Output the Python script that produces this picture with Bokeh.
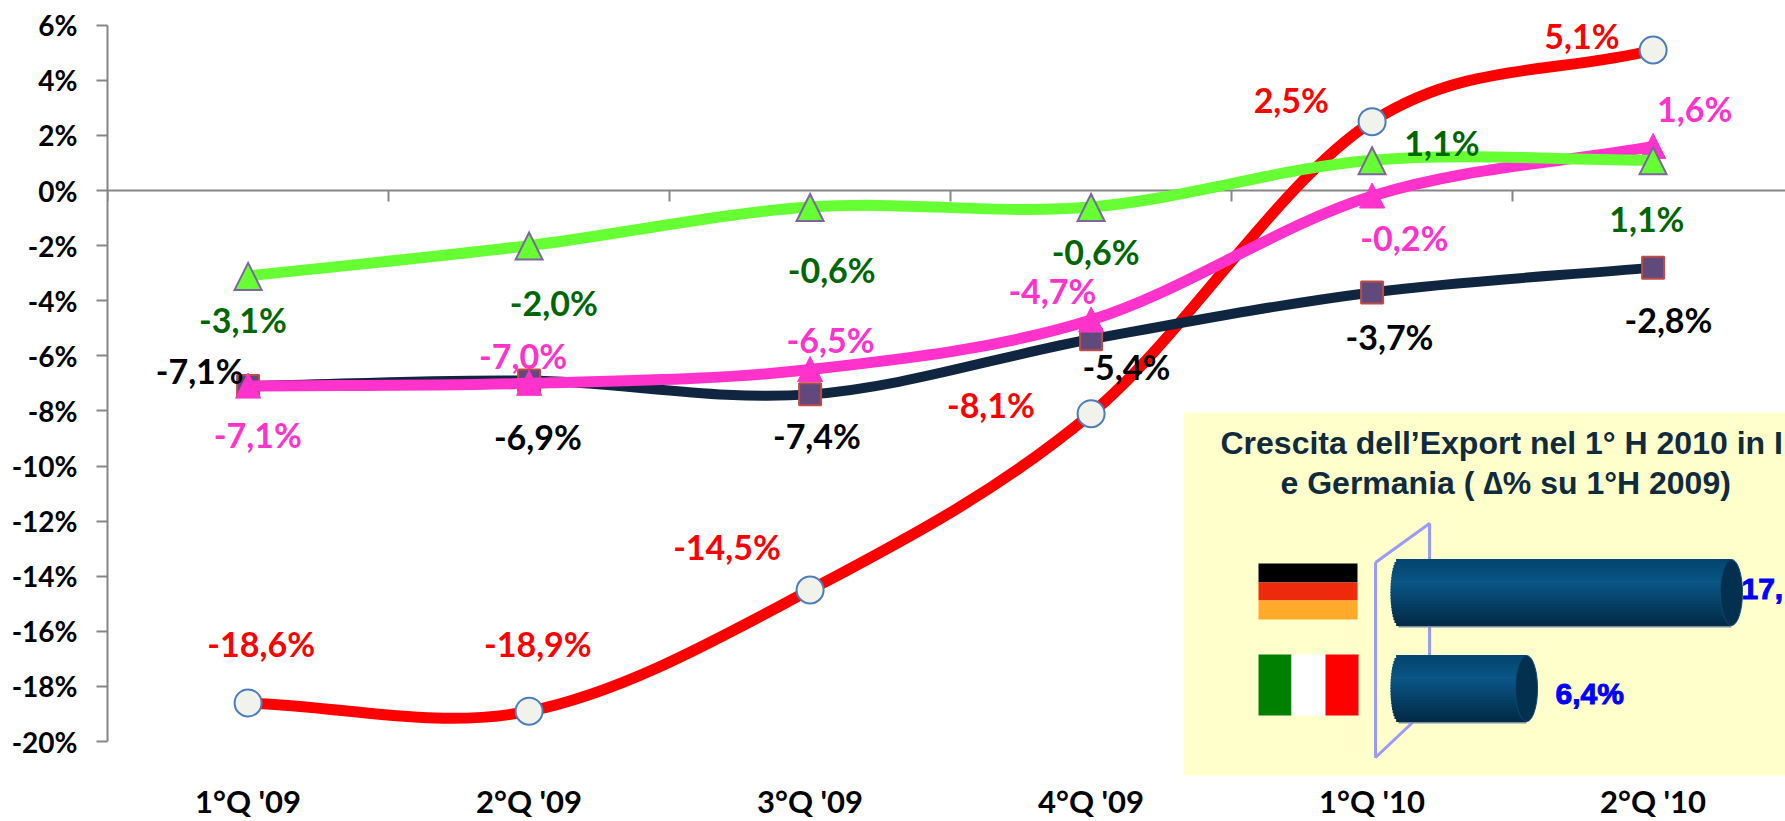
from bokeh.plotting import figure
from bokeh.embed import file_html
from bokeh.resources import INLINE
from bokeh.models import Range1d, LinearAxis, FixedTicker
from bokeh.core.properties import value
import math

# ---- data ----
categories = ["1°Q '09", "2°Q '09", "3°Q '09", "4°Q '09", "1°Q '10", "2°Q '10"]
red_values = [-18.6, -18.9, -14.5, -8.1, 2.5, 5.1]
navy_values = [-7.1, -6.9, -7.4, -5.4, -3.7, -2.8]
pink_values = [-7.1, -7.0, -6.5, -4.7, -0.2, 1.6]
green_values = [-3.1, -2.0, -0.6, -0.6, 1.1, 1.1]
y_ticks = list(range(-20, 8, 2))
inset_countries = ["Germania", "Italia"]
inset_values = [17.3, 6.4]
inset_labels = ["17,", "6,4%"]
inset_title = ["Crescita dell’Export nel 1° H 2010 in I", "e Germania ( ∆% su 1°H 2009)"]

# ---- layout (page pixels) ----
W, H = 1785, 821
LEFT, BOTTOM = 107, 821
ZERO_Y, PX_PER_PCT = 190.0, 27.55
CAT_X0, CAT_DX = 247.6, 281.0
FONT = "Lato"
S = 1.1384  # label offsets below were measured on the shrunk picture

x = list(range(len(categories)))

p = figure(width=W, height=H, output_backend="svg", toolbar_location=None, x_axis_location=None,
           x_range=Range1d(-0.5 - (CAT_X0 - 140.5 - LEFT) / CAT_DX, (W - CAT_X0) / CAT_DX),
           y_range=Range1d((ZERO_Y - BOTTOM) / PX_PER_PCT, ZERO_Y / PX_PER_PCT),
           min_border_left=LEFT, min_border_right=0, min_border_top=0, min_border_bottom=0)
p.styles = {"position": "absolute", "left": "0px", "top": "0px"}
p.outline_line_color = None
p.xgrid.visible = False
p.ygrid.visible = False

AXIS = "#868686"

# zero line with ticks between categories
zero_ticks = [i - 0.5 for i in range(len(categories))]
zax = LinearAxis(fixed_location=0, ticker=FixedTicker(ticks=zero_ticks),
                 major_label_overrides={t: "" for t in zero_ticks})
zax.axis_line_color = AXIS
zax.axis_line_width = 2
zax.major_tick_line_color = AXIS
zax.major_tick_line_width = 2
zax.major_tick_in = 0
zax.major_tick_out = 11
zax.minor_tick_line_color = None
zax.level = "underlay"
p.add_layout(zax, "below")

ya = p.yaxis[0]
ya.ticker = FixedTicker(ticks=y_ticks)
ya.major_label_overrides = {t: f"{t}%" for t in y_ticks}
ya.bounds = (-20, 6)
ya.axis_line_color = AXIS
ya.axis_line_width = 2
ya.major_tick_line_color = AXIS
ya.major_tick_line_width = 2
ya.major_tick_in = 0
ya.major_tick_out = 11
ya.minor_tick_line_color = None
ya.major_label_standoff = 19
ya.major_label_text_font = FONT
ya.major_label_text_font_style = "bold"
ya.major_label_text_font_size = "28px"
ya.major_label_text_color = "#000000"

# ---- inset ----
p.extra_x_ranges["px"] = Range1d(LEFT, W)
p.extra_y_ranges["px"] = Range1d(BOTTOM, 0)
IN_PX, IN_BASE, IN_ROW = 18.8, 1398.0, 96.0   # px per %, x of bar base, px per row
IN_ROW0 = 688.0
base_v = -0.41
p.extra_x_ranges["inset"] = Range1d(base_v - (IN_BASE - LEFT) / IN_PX, base_v + (W - IN_BASE) / IN_PX)
p.extra_y_ranges["inset"] = Range1d(-(BOTTOM - IN_ROW0) / IN_ROW, IN_ROW0 / IN_ROW)
PX = dict(x_range_name="px", y_range_name="px")
IN = dict(x_range_name="inset", y_range_name="inset")

p.quad(left=[1183], right=[W], top=[412], bottom=[775], fill_color="#FFFFCC", line_color=None, **PX)
p.line([1375, 1429, 1429, 1375, 1375], [562, 523, 706, 757, 562], line_color="#9999FF", line_width=3, **PX)

# flags
p.quad(left=[1258] * 3, right=[1357] * 3, top=[563, 582, 600], bottom=[582, 600, 619],
       fill_color=["#000000", "#EE2A0C", "#FFAA2B"], line_color=None, **PX)
p.quad(left=[1258, 1291, 1325], right=[1291, 1325, 1358], top=[654] * 3, bottom=[715] * 3,
       fill_color=["#008000", "#FFFFFF", "#FF0000"], line_color=None, **PX)

rows = [1, 0]
label_dx = [10, 29]
for row, v, lab, dx in zip(rows, inset_values, inset_labels, label_dx):
    p.text([v], [row], text=[lab], text_color="#0000FF", text_font=value("Liberation Sans"),
           text_font_style="bold", text_font_size=value("30px"), text_align="left",
           text_outline_color="#0000FF",
           text_baseline="middle", x_offset=dx, y_offset=5 if row == 0 else -4, **IN)

def mix(a, b, t):
    ca = [int(a[i:i + 2], 16) for i in (1, 3, 5)]
    cb = [int(b[i:i + 2], 16) for i in (1, 3, 5)]
    return "#%02x%02x%02x" % tuple(round(u + (w - u) * t) for u, w in zip(ca, cb))

NB = 22
BAR_H = 66.0
for row, v in zip(rows, inset_values):
    ys, ls, cols = [], [], []
    for i in range(NB):
        t = (i + 0.5) / NB          # 0 top .. 1 bottom
        ys.append(row + (0.5 - t) * BAR_H / IN_ROW)
        ls.append(base_v - (8 / IN_PX) * math.sqrt(max(0, 1 - (2 * t - 1) ** 2)))
        cols.append(mix("#03436F", "#0A5686", t / 0.35) if t < 0.35 else mix("#0A5686", "#012A45", (t - 0.35) / 0.65))
    p.hbar(y=[row - 2 / IN_ROW], left=[base_v], right=[v], height=BAR_H / IN_ROW, fill_color="#7F8C98", line_color=None, **IN)
    p.hbar(y=ys, left=ls, right=[v] * NB, height=BAR_H / NB / IN_ROW * 1.3, fill_color=cols, line_color=None, **IN)
    p.ellipse([v], [row], width=22, height=BAR_H, width_units="screen", height_units="screen",
              fill_color="#04304F", line_color="#0A4A72", line_width=1, **IN)

for txt, lx, ly in zip(inset_title, [1220, 1280], [442, 482]):
    p.text([lx], [ly], text=[txt], text_color="#0F2B3D", text_font=value("Liberation Sans"),
           text_font_style="bold", text_font_size=value("32px"), text_align="left",
           text_baseline="middle", **PX)

# ---- smoothed lines ----
def smooth(ax_, ay, color, width):
    n = len(ax_)
    mx, my = [], []
    for i in range(n):
        a, b = max(i - 1, 0), min(i + 1, n - 1)
        d = 6 if 0 < i < n - 1 else 3
        mx.append((ax_[b] - ax_[a]) / d)
        my.append((ay[b] - ay[a]) / d)
    p.bezier(x0=ax_[:-1], y0=ay[:-1], x1=ax_[1:], y1=ay[1:],
             cx0=[ax_[i] + mx[i] for i in range(n - 1)], cy0=[ay[i] + my[i] for i in range(n - 1)],
             cx1=[ax_[i + 1] - mx[i + 1] for i in range(n - 1)], cy1=[ay[i + 1] - my[i + 1] for i in range(n - 1)],
             line_color=color, line_width=width, line_cap="round")

def triangles(ax_, ay, half_w, up, down, fill, line, lw):
    xs = [[a - half_w / CAT_DX, a, a + half_w / CAT_DX] for a in ax_]
    ys = [[b - down / PX_PER_PCT, b + up / PX_PER_PCT, b - down / PX_PER_PCT] for b in ay]
    p.patches(xs, ys, fill_color=fill, line_color=line, line_width=lw, line_join="miter")

smooth(x, red_values, "#FF0000", 11)
p.scatter(x, red_values, marker="circle", size=27, fill_color="#F2F2EC", line_color="#4A7EBB", line_width=2)
smooth(x, navy_values, "#10253F", 10)
p.scatter(x, navy_values, marker="square", size=22, fill_color="#604A7B", line_color="#BE4B48", line_width=2)
smooth(x, pink_values, "#FF33CC", 11)
triangles(x, pink_values, 12.5, 13, 12, "#FF33CC", "#FF33CC", 1)
smooth(x, green_values, "#66FF33", 11)
triangles(x, green_values, 13.5, 13, 14, "#66FF33", "#8064A2", 2)

# ---- value labels ----
def fmt(v):
    return f"{v:.1f}%".replace(".", ",")

def labels(vals, offs, color):
    p.text(x, vals, text=[fmt(v) for v in vals], text_color=color, text_font=value(FONT),
           text_font_style="bold", text_font_size=value("34px"), text_align="center",
           text_baseline="middle", x_offset=[(o[0] - 1) * S for o in offs], y_offset=[(o[1] - 1) * S for o in offs])

labels(red_values, [(12.5, -51), (8.7, -58.4), (-72, -37), (-87, -7), (-70, -18.5), (-61.5, -11.6)], "#FF0000")
labels(green_values, [(-3.5, 39), (22.7, 50.6), (20, 55.5), (5, 40.5), (62.3, -14.4), (-4.5, 52.6)], "#006600")
labels(navy_values, [(-41.5, -12.8), (8.7, 50), (7, 37), (32, 25.3), (16.3, 39.5), (14.5, 46.2)], "#000000")
labels(pink_values, [(9.5, 43.2), (-4.3, -23.4), (19, -25.3), (-33, -24.7), (29.3, 37.2), (37.5, -32.3)], "#FF33CC")

# category labels under the plot
p.text(x, [(ZERO_Y - 800) / PX_PER_PCT] * len(x), text=categories, text_color="#000000", text_font=value(FONT),
       text_font_style="bold", text_font_size=value("31px"), text_align="center", text_baseline="middle")

open("out.html", "w").write(file_html(p, INLINE))
